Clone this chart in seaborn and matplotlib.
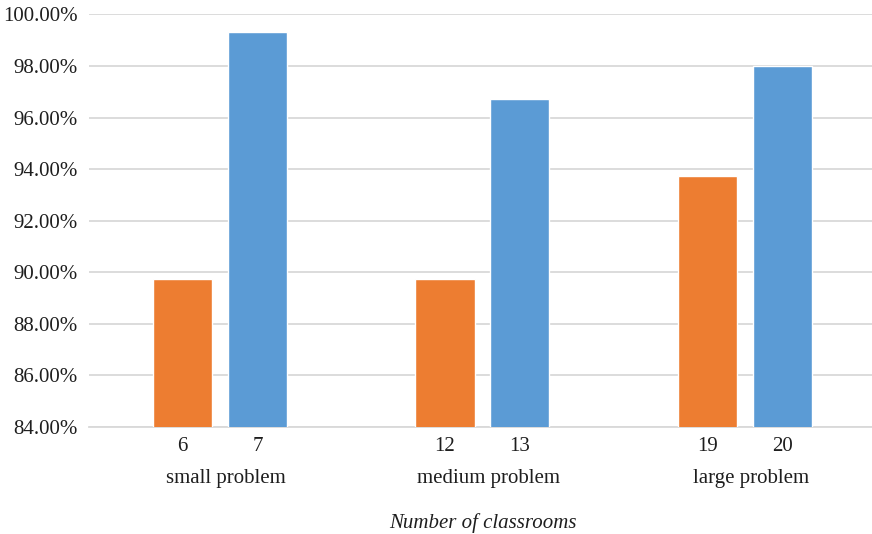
import matplotlib
matplotlib.use("Agg")
import matplotlib.pyplot as plt
import matplotlib.transforms as mtransforms
import seaborn as sns
import pandas as pd
from matplotlib.ticker import FuncFormatter, MultipleLocator

# Problem sizes and the two classroom counts tested for each
groups = ["small problem", "medium problem", "large problem"]
rooms_fewer = [6, 12, 19]
rooms_more = [7, 13, 20]
rate_fewer = [0.8975, 0.8975, 0.9372]
rate_more = [0.9933, 0.9671, 0.9800]

series = ["fewer", "more"]
colors = {"fewer": "#ED7D31", "more": "#5B9BD5"}

df = pd.DataFrame({
    "group": groups * 2,
    "series": ["fewer"] * 3 + ["more"] * 3,
    "rate": rate_fewer + rate_more,
    "rooms": rooms_fewer + rooms_more,
})

sns.set_theme(style="white")
plt.rcParams["font.family"] = ["Liberation Serif", "DejaVu Serif"]

FS = 15
TXT = "#1e1e1e"

fig = plt.figure(figsize=(8.72, 5.34), dpi=100)
ax = fig.add_axes([0.102, 0.2004, 0.9025, 0.7725])

sns.barplot(data=df, x="group", y="rate", hue="series", order=groups,
            hue_order=series, palette=colors, width=0.571, gap=0.21,
            saturation=1, legend=False, ax=ax, zorder=3)

ax.set_ylim(0.84, 1.0)
ax.set_xlim(-0.5, 2.5)
ax.yaxis.set_major_locator(MultipleLocator(0.02))
ax.yaxis.set_major_formatter(FuncFormatter(lambda v, _: f"{v * 100:.2f}%"))
ax.grid(axis="y", color="#d9d9d9", linewidth=1.3, zorder=0)
ax.set_axisbelow(True)
for side in ["top", "right", "left"]:
    ax.spines[side].set_visible(False)
ax.spines["bottom"].set_color("#d9d9d9")
ax.spines["bottom"].set_linewidth(1.3)

ax.tick_params(axis="y", length=0, labelsize=FS, pad=8, colors=TXT)
ax.tick_params(axis="x", length=0, labelsize=FS, pad=30.5, colors=TXT)
ax.set_ylabel("")

# nudge the group names slightly to the right
shift = mtransforms.ScaledTranslation(6 / 100, 0, fig.dpi_scale_trans)
for lbl in ax.get_xticklabels():
    lbl.set_transform(lbl.get_transform() + shift)

# Classroom counts beneath each bar
for container, counts in zip(ax.containers, [rooms_fewer, rooms_more]):
    for bar, n in zip(container, counts):
        cx = bar.get_x() + bar.get_width() / 2
        ax.annotate(str(n), xy=(cx, 0), xycoords=("data", "axes fraction"),
                    xytext=(0, -7), textcoords="offset points",
                    ha="center", va="top", fontsize=FS, color=TXT)

ax.set_xlabel("Number of classrooms", fontsize=FS, style="italic",
              color=TXT, labelpad=17.5)

fig.savefig("out.png", dpi=100)
